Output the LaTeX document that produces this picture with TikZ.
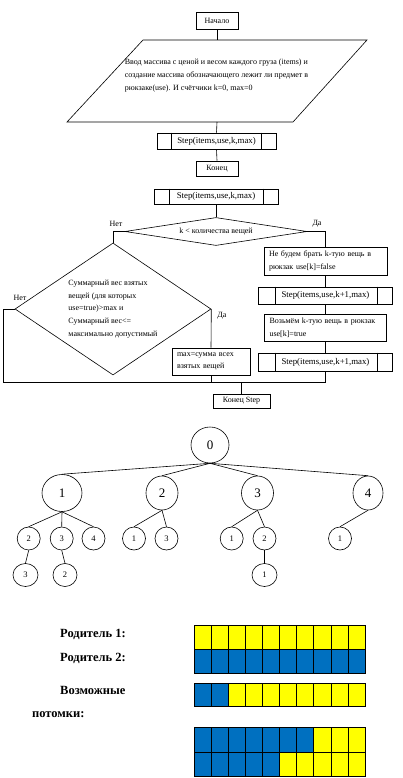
\documentclass[tikz,border=0pt]{standalone}
\usepackage{fontspec}
\setmainfont{Liberation Serif}
\usetikzlibrary{shapes.geometric}
\definecolor{cyellow}{RGB}{255,255,0}
\definecolor{cblue}{RGB}{0,112,192}
\newcommand{\flowfont}{\fontsize{8}{13}\selectfont}
\begin{document}
\begin{tikzpicture}[x=1pt,y=-1pt,
  ln/.style={line width=0.6pt, draw=black},
  fbox/.style={draw, line width=0.6pt, rectangle, inner sep=0pt, font=\flowfont},
  stepbox/.style={fbox, font=\fontsize{8.8}{10}\selectfont},
  tbox/.style={fbox, align=left, inner xsep=5pt},
  decide/.style={draw, line width=0.6pt, diamond, inner sep=0pt, font=\flowfont},
  lbl/.style={inner sep=0pt, font=\flowfont},
  bignode/.style={draw, line width=0.6pt, ellipse, inner sep=0pt, font=\fontsize{13}{13}\selectfont},
  smallnode/.style={draw, line width=0.6pt, ellipse, inner sep=0pt, minimum width=23pt, minimum height=23pt, font=\fontsize{8.5}{8.5}\selectfont},
  ptext/.style={inner sep=0pt, anchor=base west, font=\bfseries\fontsize{12.5}{14}\selectfont}
]
\useasboundingbox (0,0) rectangle (402,778);
\fill[white] (0,0) rectangle (402,778);

% ---------- first flowchart ----------
\node[fbox, minimum width=42pt, minimum height=17pt] (start) at (217,20.5) {Начало};
\coordinate (pa) at (143,40);
\coordinate (pb) at (367,40);
\coordinate (pc) at (293,122);
\coordinate (pd) at (67,122);
\coordinate (pin) at (217,40);
\coordinate (pout) at (217,122);
\draw[ln] (pa) -- (pb) -- (pc) -- (pd) -- cycle;
\node[lbl, align=left] (intext) at (216.5,76) {Ввод массива с ценой и весом каждого груза (items) и\\создание массива обозначающего лежит ли предмет в\\рюкзаке(use). И счётчики k=0, max=0};
\node[stepbox, minimum width=119pt, minimum height=16pt] (s1) at (216.5,141) {Step(items,use,k,max)};
\draw[ln] ([xshift=15pt]s1.north west) -- ([xshift=15pt]s1.south west);
\draw[ln] ([xshift=-15pt]s1.north east) -- ([xshift=-15pt]s1.south east);
\node[fbox, minimum width=42pt, minimum height=15pt] (end1) at (217,168.5) {Конец};
\draw[ln] (start.south) -- (pin);
\draw[ln] (pout) -- (s1.north);
\draw[ln] (s1.south) -- (end1.north);

% ---------- second flowchart ----------
\node[stepbox, minimum width=124pt, minimum height=15pt] (s2) at (216,196.5) {Step(items,use,k,max)};
\draw[ln] ([xshift=16pt]s2.north west) -- ([xshift=16pt]s2.south west);
\draw[ln] ([xshift=-15pt]s2.north east) -- ([xshift=-15pt]s2.south east);
\node[decide, aspect=7, minimum width=182pt, minimum height=28pt] (d1) at (216,231.5) {k < количества вещей};
\node[lbl] (no1) at (116,224) {Нет};
\node[lbl] (yes1) at (317,224) {Да};
\draw[ln] (s2.south) -- (d1.north);

\node[decide, aspect=1.5, minimum width=196pt, minimum height=132pt, align=left, font=\fontsize{8}{12.6}\selectfont] (d2) at (113,309) {Суммарный вес взятых\\вещей (для которых\\use=true)>max и\\Суммарный вес<=\\максимально допустимый};
\node[lbl] (no2) at (20,298) {Нет};
\node[lbl] (yes2) at (222,316) {Да};
\draw[ln] (d1.west) -| (d2.north);

\node[tbox, text width=68pt, minimum height=27pt, font=\fontsize{8}{12}\selectfont] (mx) at (211,361.5) {max=сумма всех\\взятых вещей};
\draw[ln] (d2.east) -- (mx.north);

\node[tbox, text width=113pt, minimum height=28pt] (nb) at (325.5,261) {Не будем брать k-тую вещь в\\рюкзак use[k]=false};
\draw[ln] (d1.east) -| (nb.north);
\node[stepbox, minimum width=134pt, minimum height=17pt] (s3) at (325.5,295.5) {Step(items,use,k+1,max)};
\draw[ln] ([xshift=17pt]s3.north west) -- ([xshift=17pt]s3.south west);
\draw[ln] ([xshift=-16pt]s3.north east) -- ([xshift=-16pt]s3.south east);
\node[tbox, text width=112pt, minimum height=27pt] (vz) at (325.5,327.5) {Возьмём k-тую вещь в рюкзак\\use[k]=true};
\node[stepbox, minimum width=134pt, minimum height=18pt] (s4) at (325.5,362) {Step(items,use,k+1,max)};
\draw[ln] ([xshift=17pt]s4.north west) -- ([xshift=17pt]s4.south west);
\draw[ln] ([xshift=-16pt]s4.north east) -- ([xshift=-16pt]s4.south east);
\draw[ln] (nb.south) -- (s3.north);
\draw[ln] (s3.south) -- (vz.north);
\draw[ln] (vz.south) -- (s4.north);

\node[fbox, minimum width=57pt, minimum height=14pt] (ends) at (241.5,401) {Конец Step};
\coordinate (lb) at (3,382);
\coordinate (jn) at (241.5,382);
\draw[ln] (d2.west) -| (lb) -- (jn) -- (ends.north);
\draw[ln] (mx.south) -- (mx.south |- jn);
\draw[ln] (s4.south) |- (jn);

% ---------- tree ----------
\node[bignode, minimum width=38pt, minimum height=36pt] (r) at (210,445) {0};
\node[bignode, minimum width=40pt, minimum height=37pt] (a1) at (62,493) {1};
\node[bignode, minimum width=32pt, minimum height=34pt] (a2) at (162,493) {2};
\node[bignode, minimum width=32pt, minimum height=34pt] (a3) at (257.5,493) {3};
\node[bignode, minimum width=30pt, minimum height=34pt] (a4) at (368,493) {4};
\foreach \c in {a1,a2,a3,a4} \draw[ln] (r.south) -- (\c.north);

\node[smallnode] (b12) at (28.7,538.5) {2};
\node[smallnode] (b13) at (61.7,538.5) {3};
\node[smallnode] (b14) at (93.5,538.5) {4};
\node[smallnode] (b21) at (134,538.5) {1};
\node[smallnode] (b23) at (166.5,538.5) {3};
\node[smallnode] (b31) at (231.7,538.5) {1};
\node[smallnode] (b32) at (264.5,538.5) {2};
\node[smallnode] (b41) at (340,538.5) {1};
\foreach \c in {b12,b13,b14} \draw[ln] (a1.south) -- (\c.north);
\foreach \c in {b21,b23} \draw[ln] (a2.south) -- (\c.north);
\foreach \c in {b31,b32} \draw[ln] (a3.south) -- (\c.north);
\draw[ln] (a4.south) -- (b41.north);

\node[smallnode, minimum width=25pt] (c123) at (25.5,575) {3};
\node[smallnode, minimum width=24pt] (c132) at (65,575) {2};
\node[smallnode, minimum width=25pt] (c321) at (264.5,575) {1};
\draw[ln] (b12.south) -- (c123.north);
\draw[ln] (b13.south) -- (c132.north);
\draw[ln] (b32.south) -- (c321.north);

% ---------- chromosomes ----------
\node[ptext] (t1) at (60,637) {Родитель 1:};
\node[ptext] (t2) at (60,661) {Родитель 2:};
\node[ptext] (t3) at (60,694) {Возможные};
\node[ptext] (t4) at (32,717) {потомки:};
\foreach \ya/\yb/\nblue in {625/649/0, 649/673/10, 683/706/2, 727/752/7, 752/776/5} {
  \foreach \i in {0,...,9} {
    \pgfmathsetmacro\xa{194+\i*17.1}
    \pgfmathsetmacro\xb{194+(\i+1)*17.1}
    \ifnum\i<\nblue\relax \def\cellc{cblue}\else\def\cellc{cyellow}\fi
    \filldraw[fill=\cellc, draw=black, line width=0.6pt] (\xa,\ya) rectangle (\xb,\yb);
  }
}
\end{tikzpicture}
\end{document}
